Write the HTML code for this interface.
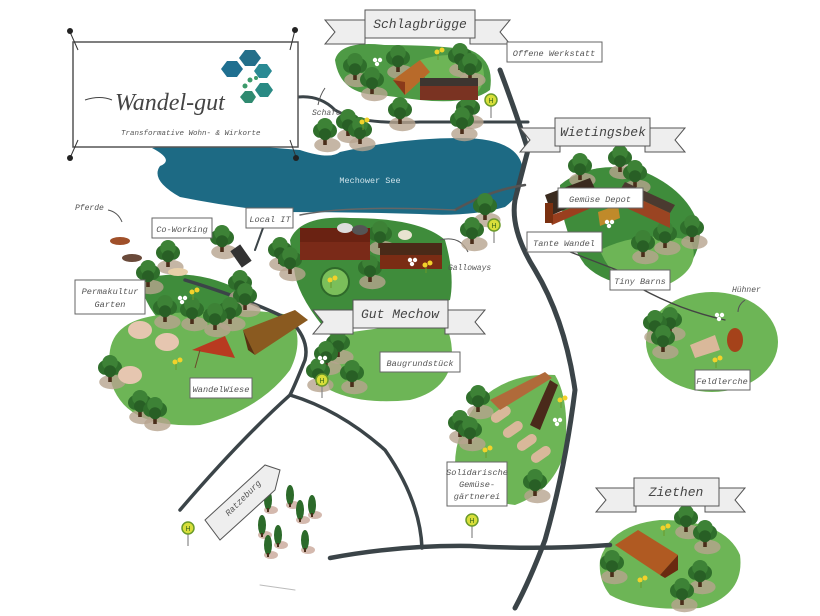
<!DOCTYPE html>
<html><head><meta charset="utf-8">
<style>
html,body{margin:0;padding:0;background:#fff;}
svg{display:block;}
.lbl{font-family:"Liberation Mono",monospace;font-style:italic;font-size:8.6px;fill:#555;}
.ban{font-family:"Liberation Mono",monospace;font-style:italic;font-size:13px;fill:#444;}
</style></head>
<body>
<svg width="820" height="616" viewBox="0 0 820 616" xmlns="http://www.w3.org/2000/svg">
<defs>
<g id="t"><g transform="scale(1.2)">
<ellipse cx="2" cy="10" rx="11" ry="6" fill="#b6a48e" opacity="0.8"/>
<rect x="-1.5" y="2" width="3" height="8" fill="#4a2e1a"/>
<circle cx="-4" cy="-2" r="6" fill="#2f6e2b"/>
<circle cx="4" cy="-2" r="6" fill="#2f6e2b"/>
<circle cx="0" cy="-6" r="6.5" fill="#3d8236"/>
<circle cx="0" cy="1" r="5" fill="#285f25"/>
</g></g>
<g id="c">
<ellipse cx="3" cy="10" rx="7" ry="4" fill="#c9a89a" opacity="0.8"/>
<ellipse cx="0" cy="0" rx="4" ry="10" fill="#2c6a2a"/>
<rect x="-1" y="8" width="2" height="4" fill="#4a2e1a"/>
</g>
<g id="h">
<line x1="0" y1="0" x2="0" y2="18" stroke="#888" stroke-width="1.2"/>
<circle cx="0" cy="0" r="6" fill="#d8de3a" stroke="#6a9a2a" stroke-width="1.5"/>
<text x="0" y="3" font-size="7" text-anchor="middle" fill="#3a6a1a" font-family="Liberation Sans">H</text>
</g>
<g id="f"><circle cx="0" cy="0" r="2.5" fill="#f2d22a"/><circle cx="5" cy="-2" r="2.5" fill="#f2d22a"/><line x1="1" y1="2" x2="1" y2="8" stroke="#6a9a2a"/></g>
<g id="w"><circle cx="0" cy="0" r="2.2" fill="#fff"/><circle cx="5" cy="0" r="2.2" fill="#fff"/><circle cx="2" cy="4" r="2.2" fill="#fff"/></g>
</defs>

<!-- green areas -->
<path d="M335 60 Q340 40 385 45 Q440 45 470 50 Q495 60 490 90 Q470 105 420 100 L380 95 Q340 95 335 60Z" fill="#4e9a45"/>
<path d="M420 60 Q450 50 480 60 Q490 80 475 95 L430 95Z" fill="#6db556"/>
<path d="M560 185 Q590 160 640 170 Q690 190 700 230 Q700 270 660 285 Q610 290 585 265 Q560 230 560 185Z" fill="#3f8c3b"/>
<path d="M600 250 Q640 230 690 240 Q705 270 660 288 Q615 290 600 250Z" fill="#6db556"/>
<ellipse cx="712" cy="342" rx="66" ry="50" fill="#6db556"/>
<path d="M290 240 Q300 215 350 218 Q420 218 445 240 Q455 275 450 300 L330 335 Q300 300 295 275Z" fill="#3f8c3b"/>
<path d="M330 335 Q320 360 330 390 Q360 405 410 400 Q450 390 452 355 Q452 330 440 320Z" fill="#6db556"/>
<path d="M140 280 Q190 265 240 290 Q250 310 230 325 L170 330 Q145 310 140 280Z" fill="#3f8c3b"/>
<path d="M110 350 Q115 320 160 315 Q230 305 290 315 Q305 340 290 370 Q260 410 200 425 Q140 428 120 400 Q105 380 110 350Z" fill="#6db556"/>
<path d="M480 400 Q510 372 555 375 Q570 400 565 450 Q555 490 515 505 Q470 500 455 465 Q455 430 480 400Z" fill="#6db556"/>
<path d="M600 560 Q610 525 660 520 Q725 520 740 555 Q745 595 700 608 Q640 612 610 595 Q598 580 600 560Z" fill="#6db556"/>

<!-- lake -->
<path d="M152 148 Q200 140 240 145 L300 150 Q330 160 340 152 Q400 138 460 138 Q515 138 522 165 Q525 192 505 207 Q470 217 420 214 Q350 212 280 212 Q230 207 180 197 Q150 180 160 166 Q175 160 152 148Z" fill="#1d6a84"/>
<text x="370" y="183" font-family="Liberation Mono,monospace" font-size="8.5" fill="#cfe3ea" text-anchor="middle">Mechower See</text>

<!-- roads -->
<g fill="none" stroke="#3b4448" stroke-linecap="round">
<path d="M500 70 Q515 110 528 150 Q520 180 515 200 Q510 230 535 270 Q565 320 575 390 Q565 470 545 540 Q530 580 515 608" stroke-width="5"/>
<path d="M298 97 Q320 95 335 110 Q360 125 420 122 L528 122" stroke-width="3"/>
<path d="M455 210 Q490 190 525 185" stroke-width="2.5" stroke="#555"/>
<path d="M300 215 Q350 205 455 210" stroke-width="1.5" stroke="#666"/>
<path d="M270 210 Q262 230 255 250" stroke-width="2"/>
<path d="M185 280 Q250 300 290 320 Q310 340 305 360 Q295 385 290 395 Q240 440 180 510" stroke-width="3.5"/>
<path d="M290 395 Q340 410 385 450 Q420 500 422 548" stroke-width="3.5"/>
<path d="M330 558 Q400 545 470 546 Q540 550 610 545" stroke-width="4.5"/>
<path d="M260 585 L295 590" stroke-width="1" stroke="#bbb"/>
<path d="M580 235 Q540 245 528 245" stroke-width="1.5" stroke="#555"/>
<path d="M565 250 L630 275" stroke-width="1.3" stroke="#444"/>
<path d="M640 288 Q680 310 725 320" stroke-width="1.3" stroke="#444"/>
</g>
<g fill="none" stroke="#555" stroke-width="1"><path d="M318 105 Q320 95 325 88"/><path d="M440 240 Q460 235 468 252"/><path d="M108 210 Q118 212 122 222"/><path d="M745 300 Q738 305 738 312"/></g>

<!-- trees -->
<use href="#t" x="355" y="68"/><use href="#t" x="372" y="82"/><use href="#t" x="398" y="60"/><use href="#t" x="460" y="58"/><use href="#t" x="470" y="68"/>
<use href="#t" x="400" y="112"/><use href="#t" x="468" y="110"/><use href="#t" x="462" y="122"/><use href="#t" x="325" y="133"/><use href="#t" x="348" y="124"/><use href="#t" x="360" y="132"/>
<use href="#t" x="580" y="168"/><use href="#t" x="620" y="160"/><use href="#t" x="635" y="175"/><use href="#t" x="665" y="236"/><use href="#t" x="643" y="245"/><use href="#t" x="692" y="230"/>
<use href="#t" x="485" y="208"/><use href="#t" x="472" y="232"/>
<use href="#t" x="670" y="322"/><use href="#t" x="655" y="325"/><use href="#t" x="663" y="340"/>
<use href="#t" x="280" y="252"/><use href="#t" x="290" y="262"/><use href="#t" x="380" y="236"/><use href="#t" x="370" y="270"/>
<use href="#t" x="168" y="255"/><use href="#t" x="222" y="240"/><use href="#t" x="148" y="275"/><use href="#t" x="240" y="285"/><use href="#t" x="245" y="298"/>
<use href="#t" x="165" y="310"/><use href="#t" x="192" y="312"/><use href="#t" x="230" y="312"/><use href="#t" x="215" y="318"/><use href="#t" x="110" y="370"/><use href="#t" x="140" y="405"/><use href="#t" x="155" y="412"/>
<use href="#t" x="338" y="345"/><use href="#t" x="326" y="356"/><use href="#t" x="318" y="373"/><use href="#t" x="352" y="375"/>
<use href="#t" x="478" y="400"/><use href="#t" x="460" y="425"/><use href="#t" x="470" y="432"/><use href="#t" x="535" y="484"/>
<use href="#t" x="686" y="520"/><use href="#t" x="705" y="535"/><use href="#t" x="612" y="565"/><use href="#t" x="700" y="575"/><use href="#t" x="682" y="593"/>
<use href="#c" x="268" y="500"/><use href="#c" x="290" y="495"/><use href="#c" x="300" y="510"/><use href="#c" x="312" y="505"/><use href="#c" x="262" y="525"/><use href="#c" x="278" y="535"/><use href="#c" x="305" y="540"/><use href="#c" x="268" y="545"/>

<!-- buildings -->
<polygon points="393,80 420,60 430,72 405,95" fill="#b86a2a"/><polygon points="393,80 405,95 405,82" fill="#8a3a1a"/>
<rect x="420" y="82" width="58" height="18" fill="#7a3322"/><rect x="420" y="78" width="58" height="8" fill="#3d3530"/>
<polygon points="545,195 590,178 598,195 552,215" fill="#3a2a1e"/><polygon points="545,205 552,215 598,198 598,205 552,225" fill="#9a3f1e"/><rect x="545" y="203" width="8" height="20" fill="#7a3010"/>
<polygon points="620,190 625,182 675,205 670,213" fill="#4a3a30"/><polygon points="620,190 670,213 670,228 620,205" fill="#9a4422"/>
<polygon points="598,212 618,205 620,218 600,226" fill="#c08a2a"/>
<rect x="300" y="232" width="70" height="28" fill="#7a2a18"/><rect x="300" y="228" width="70" height="14" fill="#6a2212"/>
<rect x="380" y="247" width="62" height="22" fill="#7a2c14"/><rect x="380" y="243" width="62" height="12" fill="#4a2a18"/>
<circle cx="335" cy="282" r="14" fill="#7bbf5a" stroke="#2f6a2a" stroke-width="2"/><use href="#f" x="330" y="280"/>
<ellipse cx="345" cy="228" rx="8" ry="5" fill="#ddd"/><ellipse cx="360" cy="230" rx="8" ry="5" fill="#555"/><ellipse cx="405" cy="235" rx="7" ry="5" fill="#e8e3d0"/>
<polygon points="243,330 295,310 308,320 255,355" fill="#8a5a20"/><polygon points="243,330 255,355 248,350" fill="#5a3010"/>
<polygon points="192,350 225,336 235,358" fill="#b83a20"/><line x1="200" y1="350" x2="195" y2="368" stroke="#6a4a2a"/>
<ellipse cx="140" cy="330" rx="12" ry="9" fill="#e6c6b0"/><ellipse cx="167" cy="342" rx="12" ry="9" fill="#e6c6b0"/><ellipse cx="130" cy="375" rx="12" ry="9" fill="#e6c6b0"/>
<rect x="235" y="246" width="12" height="20" transform="rotate(-35 241 256)" fill="#333"/>
<g fill="#d9b89a"><rect x="490" y="410" width="22" height="10" rx="5" transform="rotate(-35 500 415)"/><rect x="502" y="425" width="22" height="10" rx="5" transform="rotate(-35 512 430)"/><rect x="516" y="438" width="22" height="10" rx="5" transform="rotate(-35 526 443)"/><rect x="530" y="450" width="22" height="10" rx="5" transform="rotate(-35 540 455)"/></g>
<polygon points="490,400 545,372 552,378 500,410" fill="#b06a3a"/><polygon points="530,425 550,380 558,385 540,430" fill="#4a2a1a"/>
<polygon points="690,345 715,335 720,350 695,358" fill="#d9b89a"/><ellipse cx="735" cy="340" rx="8" ry="12" fill="#a5421a"/>
<polygon points="615,545 638,530 678,555 660,575" fill="#b05a22"/><polygon points="660,575 678,555 678,570 665,578" fill="#6a2a10"/>
<g fill="#a0502a"><ellipse cx="120" cy="241" rx="10" ry="4"/></g><ellipse cx="132" cy="258" rx="10" ry="4" fill="#6a4a3a"/><ellipse cx="178" cy="272" rx="10" ry="4" fill="#e8d0a8"/>

<use href="#w" x="375" y="60"/><use href="#f" x="437" y="52"/><use href="#f" x="362" y="122"/><use href="#w" x="607" y="222"/><use href="#w" x="410" y="260"/><use href="#f" x="425" y="265"/>
<use href="#f" x="192" y="292"/><use href="#w" x="180" y="298"/><use href="#f" x="175" y="362"/><use href="#w" x="320" y="358"/><use href="#f" x="560" y="400"/><use href="#w" x="555" y="420"/><use href="#f" x="485" y="450"/><use href="#f" x="663" y="528"/><use href="#f" x="640" y="580"/><use href="#w" x="717" y="315"/><use href="#f" x="715" y="360"/>

<use href="#h" x="491" y="100"/><use href="#h" x="494" y="225"/><use href="#h" x="322" y="380"/><use href="#h" x="188" y="528"/><use href="#h" x="472" y="520"/>

<!-- logo sign -->
<rect x="73" y="42" width="225" height="105" fill="#fff" stroke="#555" stroke-width="1.5"/>
<g stroke="#333" stroke-width="1"><line x1="70" y1="32" x2="78" y2="50"/><line x1="295" y1="30" x2="290" y2="50"/><line x1="70" y1="158" x2="78" y2="140"/><line x1="296" y1="157" x2="290" y2="140"/></g>
<g fill="#222"><circle cx="70" cy="31" r="3"/><circle cx="295" cy="30" r="3"/><circle cx="70" cy="158" r="3"/><circle cx="296" cy="158" r="3"/></g>
<path d="M85 100 Q100 95 112 100" stroke="#444" fill="none"/>
<text x="115" y="110" font-family="Liberation Serif,serif" font-style="italic" font-size="24" fill="#444">Wandel-gut</text>
<text x="121" y="135" font-family="Liberation Mono,monospace" font-style="italic" font-size="7.5" fill="#555">Transformative Wohn- &amp; Wirkorte</text>
<g fill="#1f6f90"><polygon points="221,69 227,61 237,61 243,69 237,77 227,77"/><polygon points="239,58 245,50 255,50 261,58 255,66 245,66" fill="#236f8a"/><polygon points="254,71 259,64 267,64 272,71 267,78 259,78" fill="#2a8a94"/><polygon points="255,90 260,83 268,83 273,90 268,97 260,97" fill="#2a8a84"/><polygon points="240,97 245,91 252,91 256,97 252,103 245,103" fill="#2f8a70"/></g>
<g fill="#3c9a6a"><circle cx="250" cy="80" r="2.5"/><circle cx="245" cy="86" r="2.5"/><circle cx="256" cy="78" r="2"/></g>

<!-- banners -->
<g fill="#eee" stroke="#555" stroke-width="1">
<polygon points="345,20 325,20 335,32 325,44 365,44 365,20"/><polygon points="490,20 510,20 500,32 510,44 470,44 470,20"/><rect x="365" y="10" width="110" height="28"/>
<polygon points="540,128 520,128 530,140 520,152 560,152 560,128"/><polygon points="665,128 685,128 675,140 685,152 645,152 645,128"/><rect x="555" y="118" width="95" height="28"/>
<polygon points="333,310 313,310 323,322 313,334 353,334 353,310"/><polygon points="465,310 485,310 475,322 485,334 445,334 445,310"/><rect x="353" y="300" width="95" height="28"/>
<polygon points="616,488 596,488 606,500 596,512 636,512 636,488"/><polygon points="725,488 745,488 735,500 745,512 705,512 705,488"/><rect x="634" y="478" width="85" height="28"/>
<polygon points="205,520 265,465 280,470 275,490 220,540"/>
</g>
<text x="420" y="28" class="ban" text-anchor="middle">Schlagbrügge</text>
<text x="603" y="136" class="ban" text-anchor="middle">Wietingsbek</text>
<text x="400" y="318" class="ban" text-anchor="middle">Gut Mechow</text>
<text x="676" y="496" class="ban" text-anchor="middle">Ziethen</text>
<text x="245" y="500" class="lbl" text-anchor="middle" transform="rotate(-45 245 500)">Ratzeburg</text>

<!-- labels -->
<g fill="#fff" stroke="#666" stroke-width="1">
<rect x="507" y="42" width="95" height="20"/><rect x="558" y="188" width="85" height="20"/><rect x="527" y="232" width="75" height="20"/><rect x="610" y="270" width="60" height="20"/>
<rect x="695" y="370" width="55" height="20"/><rect x="246" y="208" width="47" height="20"/><rect x="152" y="218" width="60" height="20"/><rect x="75" y="280" width="70" height="34"/>
<rect x="380" y="352" width="80" height="20"/><rect x="190" y="378" width="62" height="20"/><rect x="447" y="462" width="60" height="44"/>
</g>
<g class="lbl">
<text x="554" y="56" text-anchor="middle">Offene Werkstatt</text>
<text x="600" y="202" text-anchor="middle">Gemüse Depot</text>
<text x="564" y="246" text-anchor="middle">Tante Wandel</text>
<text x="640" y="284" text-anchor="middle">Tiny Barns</text>
<text x="722" y="384" text-anchor="middle">Feldlerche</text>
<text x="270" y="222" text-anchor="middle">Local IT</text>
<text x="182" y="232" text-anchor="middle">Co-Working</text>
<text x="110" y="294" text-anchor="middle">Permakultur</text><text x="110" y="307" text-anchor="middle">Garten</text>
<text x="420" y="366" text-anchor="middle">Baugrundstück</text>
<text x="221" y="392" text-anchor="middle">WandelWiese</text>
<text x="477" y="475" text-anchor="middle">Solidarische</text><text x="477" y="487" text-anchor="middle">Gemüse-</text><text x="477" y="499" text-anchor="middle">gärtnerei</text>
<text x="312" y="115" font-size="8">Schafe</text>
<text x="448" y="270" font-size="8">Galloways</text>
<text x="75" y="210" font-size="8">Pferde</text>
<text x="732" y="292" font-size="8">Hühner</text>
</g>
</svg>
</body></html>
